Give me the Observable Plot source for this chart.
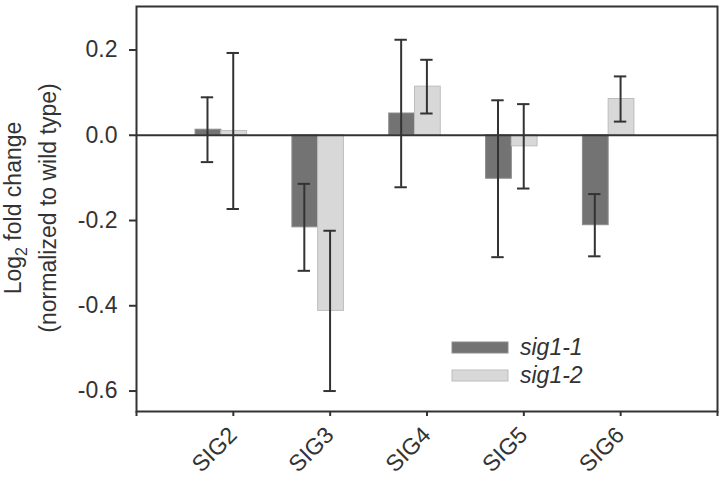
<!DOCTYPE html>
<html>
<head>
<meta charset="utf-8">
<script src="https://cdn.jsdelivr.net/npm/d3@7"></script>
<script src="https://cdn.jsdelivr.net/npm/@observablehq/plot@0.6"></script>
<style>
  html, body { margin: 0; padding: 0; background: white; }
  #chart svg text { font-size: 23px; }
</style>
</head>
<body>
<div id="chart"></div>
<script>
// ---- data ----
const categories = ["SIG2", "SIG3", "SIG4", "SIG5", "SIG6"];
const seriesNames = ["sig1-1", "sig1-2"];
const sig11 = [0.013, -0.216, 0.051, -0.102, -0.211];
const sig11sd = [0.076, 0.102, 0.173, 0.184, 0.073];
const sig12 = [0.010, -0.412, 0.114, -0.026, 0.085];
const sig12sd = [0.183, 0.188, 0.063, 0.099, 0.053];
const yTicks = [-0.6, -0.4, -0.2, 0.0, 0.2];

// ---- styling / layout ----
const fills = ["#737373", "#d8d8d8"];
const strokes = ["#8c8c8c", "#bdbdbd"];
const ink = "#333";
const barW = 0.266;
const leftEdge = [-0.39, -0.124];
const cap = 0.064;

const rows = [];
categories.forEach((c, i) => {
  [sig11, sig12].forEach((vals, s) => {
    const sds = s === 0 ? sig11sd : sig12sd;
    const x1 = i + 1 + leftEdge[s];
    rows.push({cat: c, s, x1, x2: x1 + barW, cx: x1 + barW / 2 - 0.01, value: vals[i], sd: sds[i]});
  });
});

const chart = Plot.plot({
  width: 724,
  height: 478,
  marginLeft: 136,
  marginRight: 7,
  marginTop: 6,
  marginBottom: 67,
  x: {domain: [0, 6]},
  y: {domain: [-0.648, 0.302]},
  style: {fontFamily: "'Liberation Sans', Arial, sans-serif", fontSize: "23px", color: ink, background: "white"},
  marks: [
    Plot.rect(rows, {x1: "x1", x2: "x2", y1: 0, y2: "value", fill: d => fills[d.s], stroke: d => strokes[d.s], strokeWidth: 1}),
    Plot.ruleY([0], {stroke: ink, strokeWidth: 2}),
    Plot.ruleX(rows, {x: "cx", y1: d => d.value - d.sd, y2: d => d.value + d.sd, stroke: ink, strokeWidth: 2}),
    Plot.ruleY(rows, {x1: d => d.cx - cap, x2: d => d.cx + cap, y: d => d.value - d.sd, stroke: ink, strokeWidth: 2}),
    Plot.ruleY(rows, {x1: d => d.cx - cap, x2: d => d.cx + cap, y: d => d.value + d.sd, stroke: ink, strokeWidth: 2}),
    Plot.frame({stroke: ink, strokeWidth: 2}),
    Plot.axisY({ticks: yTicks, tickSize: 7, tickPadding: 12, tickFormat: d => d.toFixed(1), label: null, strokeWidth: 2, fill: ink}),
    Plot.axisX({ticks: [0, 1, 2, 3, 4, 5, 6], tickSize: 5, tickFormat: () => "", label: null, strokeWidth: 2}),
    Plot.text(categories, {x: (d, i) => i + 1, text: d => d, frameAnchor: "bottom", rotate: -45, textAnchor: "end", dx: 5, dy: 25, fill: ink})
  ]
});

const svg = d3.select(chart);
// y-axis title (two lines, with subscript)
const t1 = svg.append("text")
  .attr("transform", "translate(21,208) rotate(-90)")
  .attr("text-anchor", "middle")
  .attr("fill", ink);
t1.append("tspan").text("Log");
t1.append("tspan").attr("font-size", 16).attr("dy", 6).text("2");
t1.append("tspan").attr("dy", -6).text(" fold change");
svg.append("text")
  .attr("transform", "translate(56,208) rotate(-90)")
  .attr("text-anchor", "middle")
  .attr("fill", ink)
  .text("(normalized to wild type)");

// legend
const lg = svg.append("g");
seriesNames.forEach((name, k) => {
  const y0 = 342 + k * 28;
  lg.append("rect").attr("x", 452).attr("y", y0).attr("width", 56).attr("height", 11)
    .attr("fill", fills[k]).attr("stroke", strokes[k]);
  lg.append("text").attr("x", 520).attr("y", y0 + 13)
    .attr("text-anchor", "start")
    .attr("font-style", "italic").attr("fill", ink).text(name);
});

document.getElementById("chart").appendChild(chart);
</script>
</body>
</html>
